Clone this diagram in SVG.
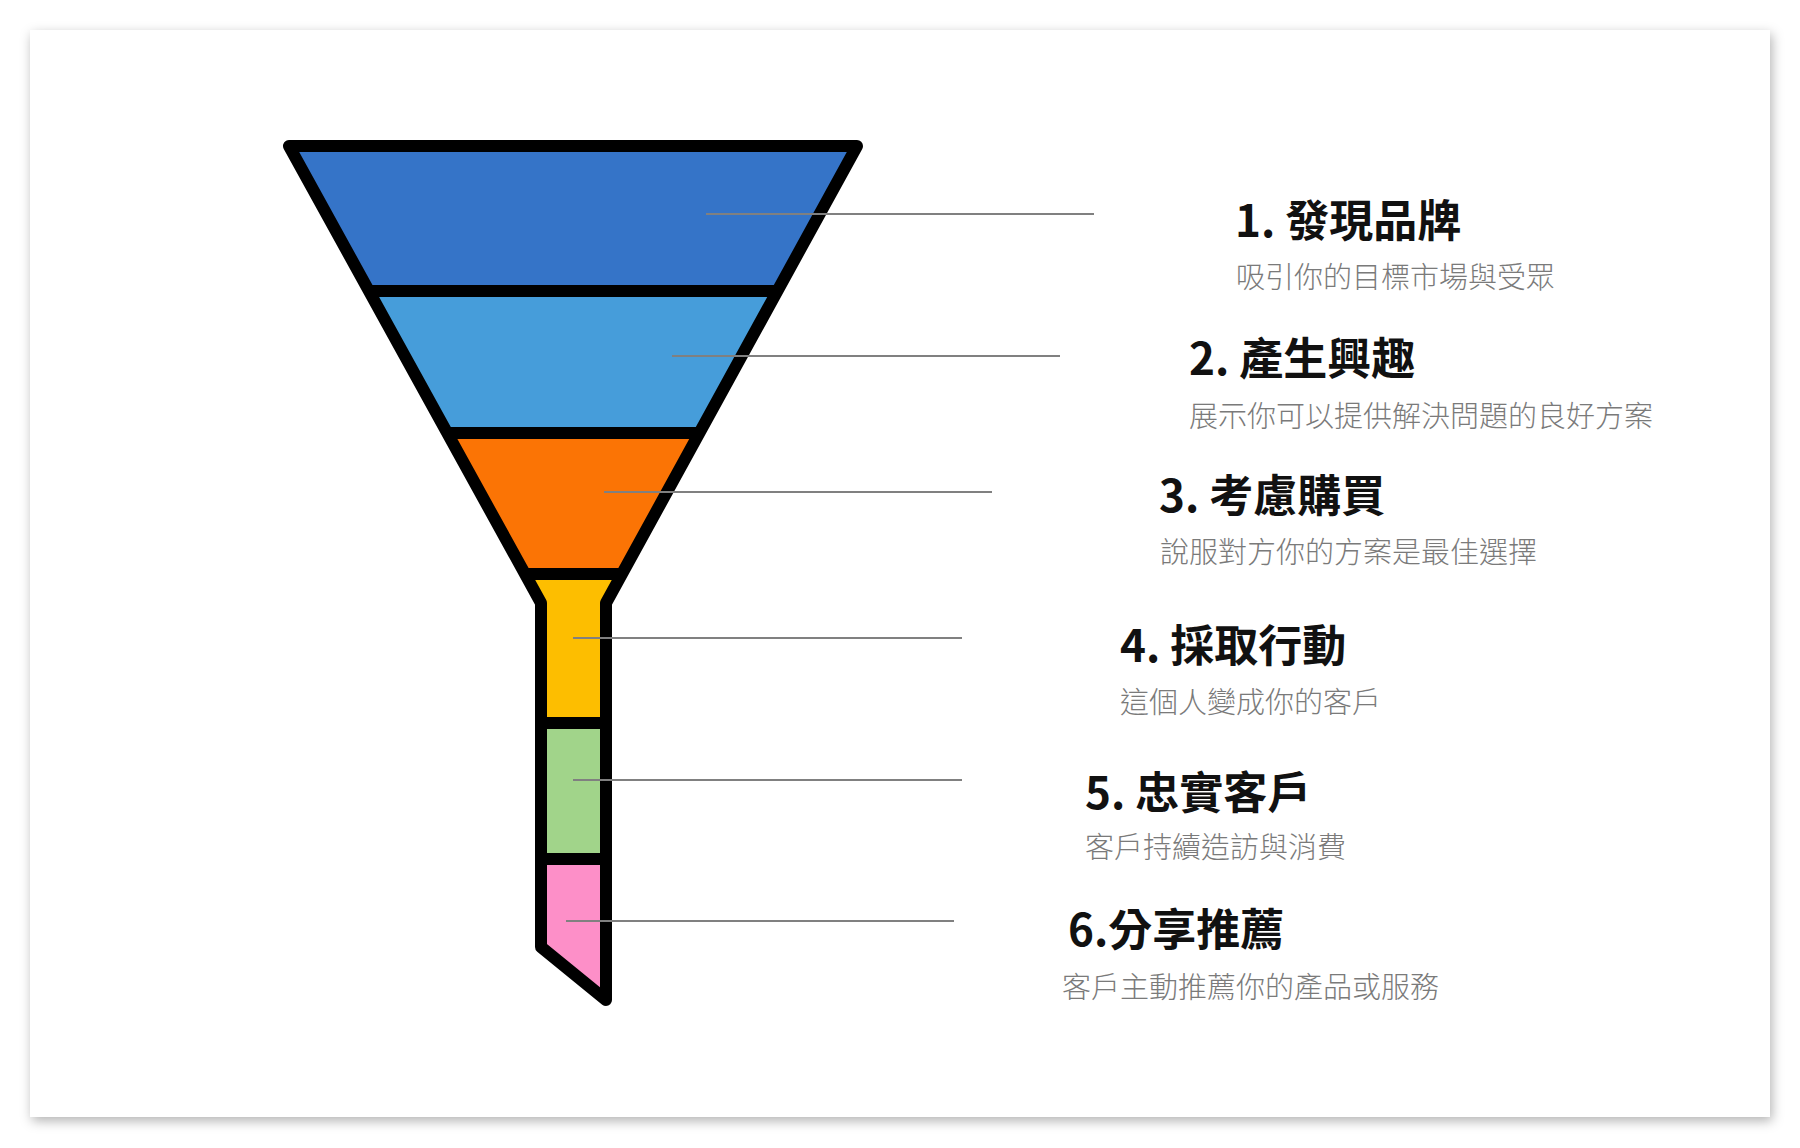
<svg xmlns="http://www.w3.org/2000/svg" width="1800" height="1148" viewBox="0 0 1800 1148">
  <defs>
    <filter id="shadow" x="-5%" y="-5%" width="110%" height="110%">
      <feDropShadow dx="2" dy="4" stdDeviation="6" flood-color="#000" flood-opacity="0.3"/>
    </filter>
    <style>
      .band { stroke: none; }
      .sep { stroke: #000; stroke-width: 12; fill: none; }
      .outline { stroke: #000; stroke-width: 12; fill: none; stroke-linejoin: round; stroke-linecap: round; }
      .leader { stroke: #808080; stroke-width: 2; fill: none; }
      .title { font-family: "Noto Sans CJK TC", "Noto Sans", sans-serif; font-weight: 700; font-size: 44px; fill: #111; }
      .sub { font-family: "Noto Sans CJK TC", "Noto Sans", sans-serif; font-weight: 300; font-size: 29px; fill: #7a7a7a; }
    </style>
  </defs>
  <rect width="1800" height="1148" fill="#ffffff"/>
  <rect x="30" y="30" width="1740" height="1087" fill="#ffffff" filter="url(#shadow)"/>

  <g id="funnel">
    <g id="stage1"><polygon class="band" fill="#3574C8" points="289,146 857,146 777.05,291 368.95,291"/></g>
    <g id="stage2"><polygon class="band" fill="#469DDA" points="368.95,291 777.05,291 698.75,433 447.25,433"/></g>
    <g id="stage3"><polygon class="band" fill="#FB7405" points="447.25,433 698.75,433 621,574 525,574"/></g>
    <g id="stage4"><polygon class="band" fill="#FDBE00" points="525,574 621,574 606,603 606,723 541,723 541,603"/></g>
    <g id="stage5"><polygon class="band" fill="#A1D48A" points="541,723 606,723 606,859 541,859"/></g>
    <g id="stage6"><polygon class="band" fill="#FD8FC8" points="541,859 606,859 606,1000 541,947"/></g>
    <line class="sep" x1="368.95" y1="291" x2="777.05" y2="291"/>
    <line class="sep" x1="447.25" y1="433" x2="698.75" y2="433"/>
    <line class="sep" x1="525" y1="574" x2="621" y2="574"/>
    <line class="sep" x1="541" y1="723" x2="606" y2="723"/>
    <line class="sep" x1="541" y1="859" x2="606" y2="859"/>
    <path class="outline" d="M289,146 L857,146 L606,603 L606,1000 L541,947 L541,603 Z"/>
  </g>

  <g id="connectors">
    <line class="leader" x1="706" y1="214" x2="1094" y2="214"/>
    <line class="leader" x1="672" y1="356" x2="1060" y2="356"/>
    <line class="leader" x1="604" y1="492" x2="992" y2="492"/>
    <line class="leader" x1="573" y1="638" x2="962" y2="638"/>
    <line class="leader" x1="573" y1="780" x2="962" y2="780"/>
    <line class="leader" x1="566" y1="921" x2="954" y2="921"/>
  </g>

  <g id="label1">
    <text class="title" x="1235" y="237">1. 發現品牌</text>
    <text class="sub" x="1236" y="288">吸引你的目標市場與受眾</text>
  </g>
  <g id="label2">
    <text class="title" x="1189" y="375">2. 產生興趣</text>
    <text class="sub" x="1189" y="427">展示你可以提供解決問題的良好方案</text>
  </g>
  <g id="label3">
    <text class="title" x="1159" y="512">3. 考慮購買</text>
    <text class="sub" x="1160" y="563">說服對方你的方案是最佳選擇</text>
  </g>
  <g id="label4">
    <text class="title" x="1120" y="662">4. 採取行動</text>
    <text class="sub" x="1120" y="713">這個人變成你的客戶</text>
  </g>
  <g id="label5">
    <text class="title" x="1085" y="809">5. 忠實客戶</text>
    <text class="sub" x="1085" y="858">客戶持續造訪與消費</text>
  </g>
  <g id="label6">
    <text class="title" x="1068" y="946">6.分享推薦</text>
    <text class="sub" x="1062" y="998">客戶主動推薦你的產品或服務</text>
  </g>
</svg>
